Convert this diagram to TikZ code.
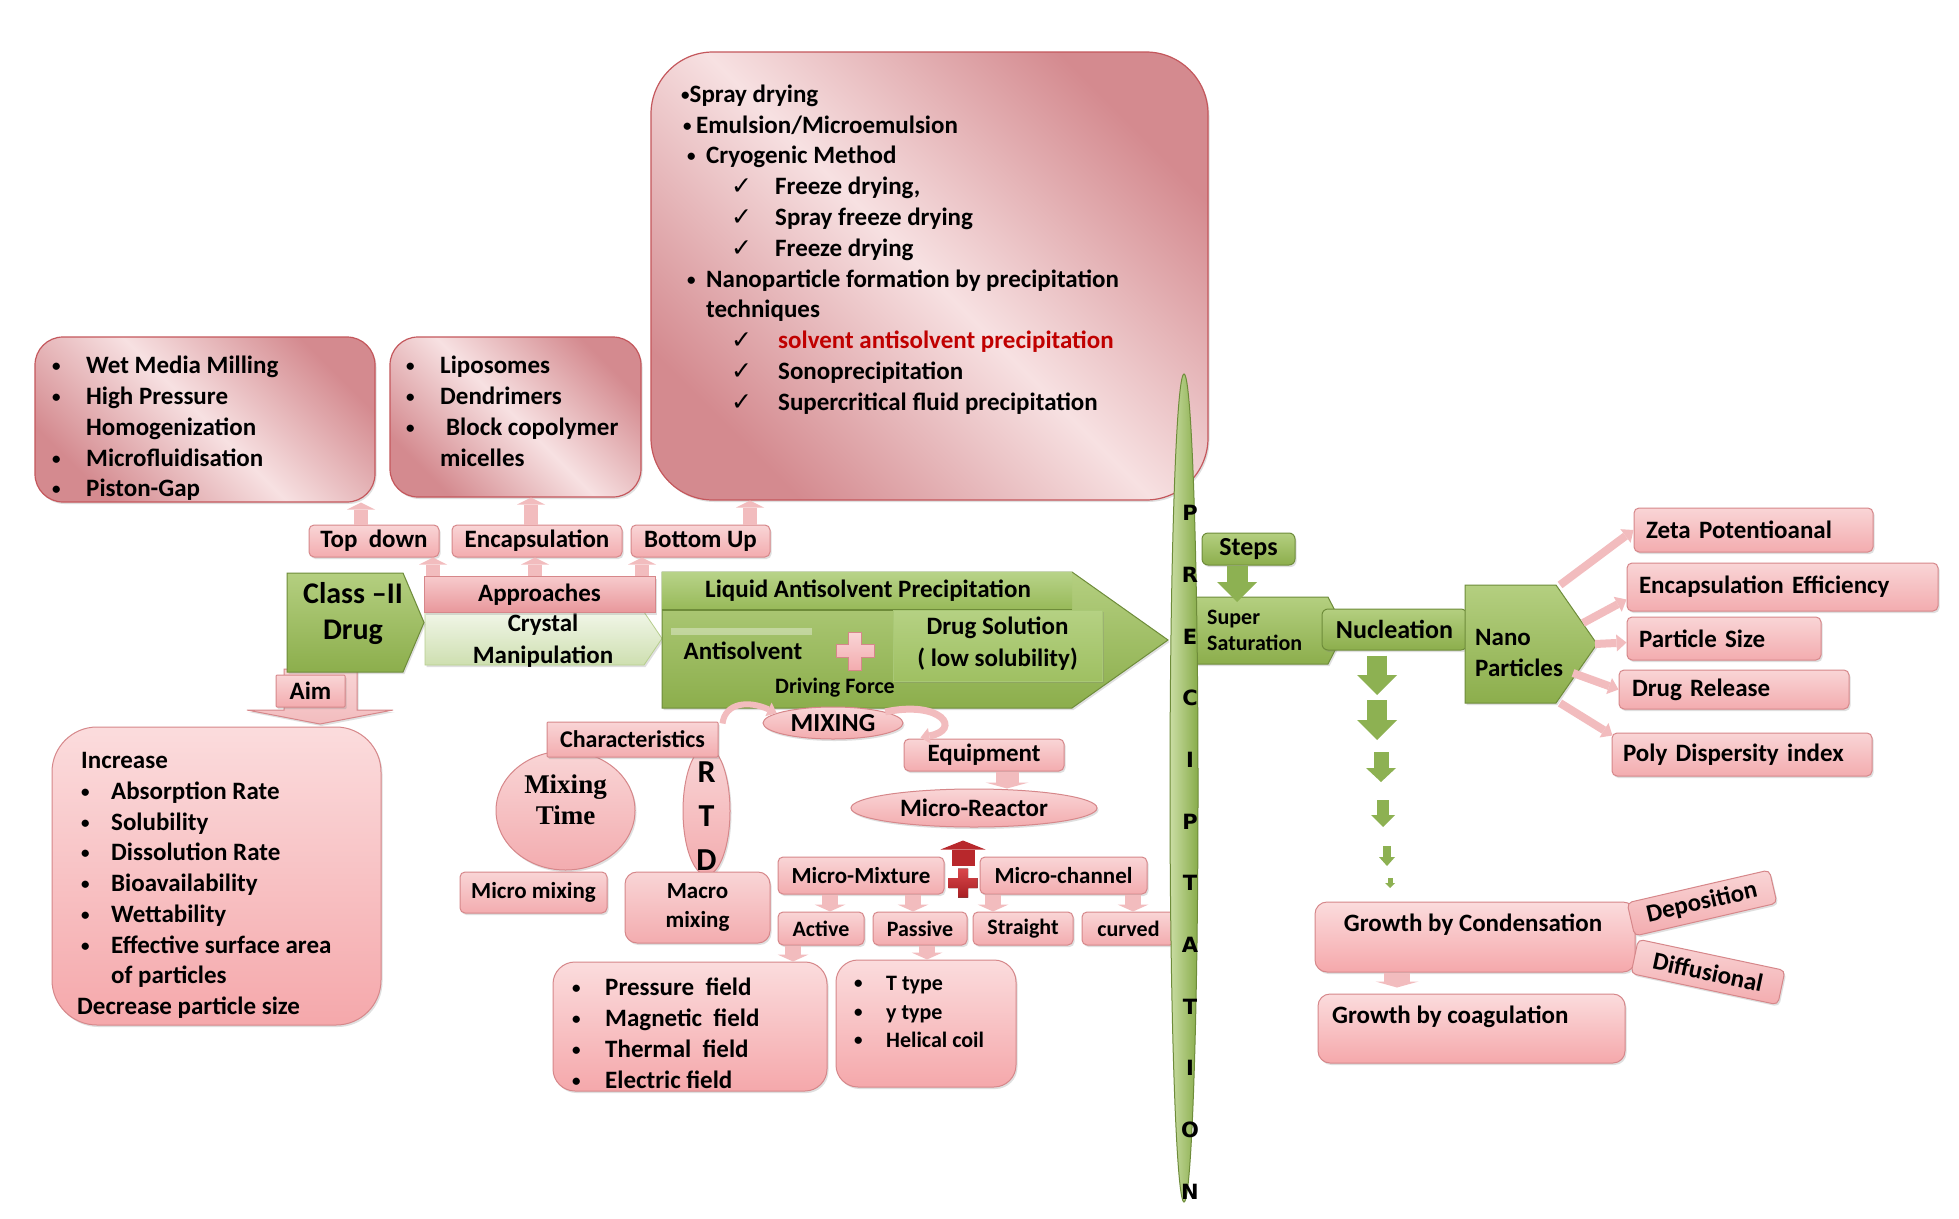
\documentclass[tikz,border=0pt]{standalone}
\usepackage{fontspec}
\setmainfont{Carlito}
\newfontfamily\dvs{DejaVu Sans}
\newfontfamily\tms{Liberation Serif}
\usetikzlibrary{shapes.geometric,arrows.meta,shadows,calc}
\newcommand\fsz[2]{\fontsize{#1}{#2}\selectfont\bfseries}
\newcommand\fl{\rule{0pt}{0.76em}}
\newcommand\sbul{{\fontsize{17}{17}\selectfont\raisebox{2pt}{•}}}
\newcommand\mybl[1]{\makebox[#1][l]{\sbul}}
\newcommand\myck[1]{\makebox[#1][l]{\dvs\mdseries\fontsize{25}{25}\selectfont ✓}}
\newcommand\pent[3]{\path[#1] (#2.north west) -- ($(#2.north east)+(-#3,0)$) -- (#2.east) -- ($(#2.south east)+(-#3,0)$) -- (#2.south west) -- cycle;}
\definecolor{pinkT}{HTML}{F9D5D6}
\definecolor{pinkB}{HTML}{F3ACAF}
\definecolor{pinkE}{HTML}{D6878A}
\definecolor{tD}{HTML}{D48A8F}
\definecolor{tL}{HTML}{F7E1E2}
\definecolor{tE}{HTML}{C4575C}
\definecolor{lT}{HTML}{FBDCDD}
\definecolor{lB}{HTML}{F5A8AB}
\definecolor{apT}{HTML}{F7CACC}
\definecolor{apB}{HTML}{E8979B}
\definecolor{gT}{HTML}{B4CF80}
\definecolor{gB}{HTML}{8CAE4C}
\definecolor{gE}{HTML}{6E8C3A}
\definecolor{gA}{HTML}{8DB152}
\definecolor{cmT}{HTML}{F1F6E8}
\definecolor{cmB}{HTML}{CEDFB0}
\definecolor{cmE}{HTML}{B7CE8E}
\definecolor{dsT}{HTML}{B5D183}
\definecolor{dsB}{HTML}{9FC062}
\definecolor{dsE}{HTML}{A9C876}
\definecolor{stT}{HTML}{B8D389}
\definecolor{stB}{HTML}{97B958}
\definecolor{pcL}{HTML}{CADDA4}
\definecolor{pcR}{HTML}{88AC4A}
\definecolor{arP}{HTML}{F2BCBE}
\definecolor{redA}{HTML}{B8282C}
\definecolor{rpT}{HTML}{D9484C}
\definecolor{rpB}{HTML}{A81E22}
\definecolor{redT}{HTML}{C00000}
\tikzset{
  shd/.style={drop shadow={opacity=0.25,shadow xshift=1.5pt,shadow yshift=-2pt}},
  pbox/.style={shd,draw=pinkE,line width=1pt,rounded corners=5pt,top color=pinkT,bottom color=pinkB,inner sep=0pt,font=\fsz{25}{30.8}},
  lbox/.style={shd,draw=pinkE,line width=1pt,rounded corners=24pt,top color=lT,bottom color=lB,inner sep=0pt},
  tbox/.style={shd,draw=tE,line width=1.2pt,rounded corners=28pt,left color=tD,right color=tD,middle color=tL,shading angle=-45,inner sep=0pt},
  pell/.style={shd,ellipse,draw=pinkE,line width=1pt,top color=pinkT,bottom color=pinkB,inner sep=0pt,font=\fsz{25}{30.8}},
  gfill/.style={shd,draw=gE,line width=1pt,top color=gT,bottom color=gB},
  gbox/.style={gfill,rounded corners=6pt,inner sep=0pt,font=\fsz{25}{30.8}},
  ghost/.style={inner sep=0pt,outer sep=0pt},
  txt/.style={inner sep=0pt,font=\fsz{25}{30.8}},
  list/.style={txt,anchor=north west,align=left},
  barrow/.style n args={4}{draw=#4,line width=#1,-{Triangle[width=#2,length=#3,line width=0pt 0 0]}},
}
\begin{document}
\begin{tikzpicture}[x=1pt,y=-1pt]
\useasboundingbox (0,0) rectangle (1959,1218);
\fill[white] (0,0) rectangle (1959,1218);

% ===== upper boxes =====
\node[tbox,minimum width=340pt,minimum height=165pt] (wmm) at (205,419.5) {};
\node[list] (wmmt) at (52,354.5) {\fl\mybl{34pt}Wet Media Milling\\
\mybl{34pt}High Pressure\\
\hspace*{34pt}Homogenization\\
\mybl{34pt}Microfluidisation\\
\mybl{34pt}Piston-Gap};
\node[tbox,minimum width=251pt,minimum height=160pt] (lipo) at (515.5,417) {};
\node[list] (lipot) at (406,354.5) {\fl\mybl{34pt}Liposomes\\
\mybl{34pt}Dendrimers\\
\mybl{34pt}\hspace{6pt}Block copolymer\\
\hspace*{34pt}micelles};
\node[tbox,rounded corners=62pt,minimum width=557pt,minimum height=448pt] (big) at (929.5,276) {};
\node[list] (bigt) at (681,83) {\fl\sbul Spray drying\\
\hspace*{2pt}\mybl{13pt}Emulsion/Microemulsion\\
\hspace*{6pt}\mybl{19pt}Cryogenic Method\\
\hspace*{50pt}\myck{44pt}Freeze drying,\\
\hspace*{50pt}\myck{44pt}Spray freeze drying\\
\hspace*{50pt}\myck{44pt}Freeze drying\\
\hspace*{6pt}\mybl{19pt}Nanoparticle formation by precipitation\\
\hspace*{25pt}techniques\\
\hspace*{50pt}\myck{47pt}\textcolor{redT}{solvent antisolvent precipitation}\\
\hspace*{50pt}\myck{47pt}Sonoprecipitation\\
\hspace*{50pt}\myck{47pt}Supercritical fluid precipitation};

% ===== approach labels =====
\node[pbox,minimum width=130pt,minimum height=32pt] (topdown) at (374,541) {Top\ \ down};
\node[pbox,minimum width=170pt,minimum height=32pt] (encap) at (537,541) {Encapsulation};
\node[pbox,minimum width=139pt,minimum height=32pt] (bottomup) at (700.5,541) {Bottom Up};
\draw[barrow={14pt}{28pt}{7pt}{arP}] ($(topdown.north)+(-13,0)$) -- ($(topdown.north |- wmm.south)+(-13,0)$);
\draw[barrow={14pt}{28pt}{7pt}{arP}] ($(encap.north)+(-6,0)$) -- ($(encap.north |- lipo.south)+(-6,0)$);
\draw[barrow={14pt}{28pt}{7pt}{arP}] ($(bottomup.north)+(49.5,0)$) -- ($(bottomup.north |- big.south)+(49.5,0)$);

% ===== class II / approaches / crystal =====
\node[ghost,minimum width=237pt,minimum height=53pt] (crys) at (543.5,638.5) {};
\pent{shd,draw=cmE,line width=0.8pt,top color=cmT,bottom color=cmB}{crys}{18}
\node[txt,align=center,font=\fsz{25}{32}] (cryst) at (543,641) {Crystal\\Manipulation};
\node[pbox,sharp corners,top color=apT,bottom color=apB,minimum width=231pt,minimum height=36pt] (appr) at (539.5,594.5) {Approaches};
\draw[barrow={14pt}{28pt}{7pt}{arP}] ($(appr.north)+(-106.5,0)$) -- ($(appr.north |- topdown.south)+(-106.5,0)$);
\draw[barrow={14pt}{28pt}{7pt}{arP}] ($(appr.north)+(-4.5,0)$) -- ($(appr.north |- encap.south)+(-4.5,0)$);
\draw[barrow={14pt}{28pt}{7pt}{arP}] ($(appr.north)+(102.5,0)$) -- ($(appr.north |- bottomup.south)+(102.5,0)$);

\node[ghost,minimum width=137pt,minimum height=99pt] (classii) at (355.5,622.5) {};
\begin{scope}[shift={(classii.south)}]
\draw[shd,draw=pinkE,line width=1pt,top color=pinkT,bottom color=arP] (-71.5,-3) -- (1.5,-3) -- (1.5,38) -- (37.5,38) -- (-35.5,52) -- (-108.5,38) -- (-71.5,38) -- cycle;
\end{scope}
\pent{gfill}{classii}{21}
\node[txt,align=center,font=\fsz{30}{36}] (classiit) at (353,614) {Class –II\\Drug};
\node[pbox,rounded corners=1pt,minimum width=69pt,minimum height=32pt] (aim) at (310.5,691) {Aim};

% ===== increase box =====
\node[lbox,rounded corners=45pt,minimum width=329pt,minimum height=298pt] (increase) at (216.5,876) {};
\node[list,font=\fsz{25}{30.75}] (increaset) at (77,749.5) {\fl\hspace*{4pt}Increase\\
\hspace*{4pt}\mybl{30pt}Absorption Rate\\
\hspace*{4pt}\mybl{30pt}Solubility\\
\hspace*{4pt}\mybl{30pt}Dissolution Rate\\
\hspace*{4pt}\mybl{30pt}Bioavailability\\
\hspace*{4pt}\mybl{30pt}Wettability\\
\hspace*{4pt}\mybl{30pt}Effective surface area\\
\hspace*{34pt}of particles\\
Decrease particle size};

% ===== liquid antisolvent precipitation arrow =====
\node[ghost,minimum width=506pt,minimum height=136pt] (lap) at (915,640) {};
\pent{gfill}{lap}{96}
\path[top color=stT,bottom color=stB] (lap.north west) rectangle ($(lap.north west)+(410,38)$);
\draw[gE,line width=1.5pt] ($(lap.north west)+(0,38)$) -- ($(lap.north west)+(410,38)$);
\node[txt] (lapt) at (868,591) {Liquid Antisolvent Precipitation};
\fill[white,opacity=0.35] (671,628) rectangle (812,635);
\node[txt] (antis) at (743,651) {Antisolvent};
\node[ghost,minimum size=38pt] (plusa) at (855,651) {};
\begin{scope}[shift={(plusa.center)}]
\draw[draw=pinkE,line width=0.8pt,top color=pinkT,bottom color=pinkB] (-6.5,-19) -- (6.5,-19) -- (6.5,-6.5) -- (19,-6.5) -- (19,6.5) -- (6.5,6.5) -- (6.5,19) -- (-6.5,19) -- (-6.5,6.5) -- (-19,6.5) -- (-19,-6.5) -- (-6.5,-6.5) -- cycle;
\end{scope}
\node[shd,draw=dsE,line width=1pt,top color=dsT,bottom color=dsB,minimum width=209pt,minimum height=71pt,inner sep=0pt] (drugsol) at (997.5,645.5) {};
\node[txt,align=center,font=\fsz{25}{32}] (drugsolt) at (997.5,644) {Drug Solution\\( low solubility)};
\node[txt,font=\fsz{22}{26}] (drivf) at (835,688) {Driving Force};

% ===== mixing region =====
\node[pell,minimum width=47pt,minimum height=128pt] (rtd) at (706.5,811) {};
\node[txt,align=center,font=\fsz{32}{44}] (rtdt) at (706.5,816) {R\\T\\D};
\node[pell,minimum width=139pt,minimum height=119pt] (mixtime) at (565.5,810.5) {};
\node[txt,align=center,font=\tms\fsz{27}{31}] (mixtimet) at (565.5,800) {Mixing\\Time};
\node[pbox,rounded corners=1pt,minimum width=171pt,minimum height=35pt,font=\fsz{24}{30}] (char) at (632.5,739.5) {Characteristics};
\node[pell,minimum width=140pt,minimum height=32pt,font=\fsz{26}{30}] (mixing) at (833,723) {MIXING};
\draw[draw=arP,line width=6pt,-{Triangle[width=15pt,length=9pt,line width=0pt 0 0]}] ($(char.north east)+(4,2)$) .. controls (725,703) and (748,700) .. (mixing.170);
\node[pbox,minimum width=160pt,minimum height=32pt] (equip) at (984,755) {Equipment};
\draw[draw=arP,line width=7pt,-{Triangle[width=16pt,length=9pt,line width=0pt 0 0]}] (mixing.12) .. controls (942,700) and (962,730) .. ($(equip.north west)+(17,-1)$);
\node[pell,minimum width=246pt,minimum height=38pt] (mreactor) at (974,808) {Micro-Reactor};
\draw[barrow={23pt}{43pt}{6pt}{arP}] ($(equip.south)+(23,0)$) -- ($(equip.south |- mreactor.north)+(23,0)$);

\node[pbox,minimum width=166pt,minimum height=37pt,font=\fsz{23}{28}] (mm) at (861,875.5) {Micro-Mixture};
\node[pbox,minimum width=167pt,minimum height=37pt,font=\fsz{23}{28}] (mc) at (1063.5,875.5) {Micro-channel};
\node[ghost,minimum size=29pt] (rplus) at (963,883) {};
\begin{scope}[shift={(rplus.center)}]
\fill[top color=rpT,bottom color=rpB] (-5,-14.5) -- (5,-14.5) -- (5,-5) -- (14.5,-5) -- (14.5,5) -- (5,5) -- (5,14.5) -- (-5,14.5) -- (-5,5) -- (-14.5,5) -- (-14.5,-5) -- (-5,-5) -- cycle;
\end{scope}
\draw[barrow={23pt}{45pt}{9pt}{redA}] ($(rplus.north)+(0,-3)$) -- ($(rplus.north |- mreactor.south)+(0,13)$);

\node[pbox,minimum width=86pt,minimum height=33pt,font=\fsz{22}{26}] (active) at (821,928.5) {Active};
\node[pbox,minimum width=94pt,minimum height=33pt,font=\fsz{22}{26}] (passive) at (920,928.5) {Passive};
\node[pbox,minimum width=100pt,minimum height=33pt,font=\fsz{22}{26}] (straight) at (1023,928.5) {Straight};
\node[pbox,minimum width=93pt,minimum height=33pt,font=\fsz{22}{26}] (curved) at (1128.5,928.5) {curved};
\draw[barrow={16pt}{31pt}{7pt}{arP}] ($(mm.south)+(-31,0)$) -- ($(mm.south |- active.north)+(-31,0)$);
\draw[barrow={16pt}{31pt}{7pt}{arP}] ($(mm.south)+(52,0)$) -- ($(mm.south |- passive.north)+(52,0)$);
\draw[barrow={16pt}{31pt}{7pt}{arP}] ($(mc.south)+(-70.5,0)$) -- ($(mc.south |- straight.north)+(-70.5,0)$);
\draw[barrow={16pt}{31pt}{7pt}{arP}] ($(mc.south)+(69.5,0)$) -- ($(mc.south |- curved.north)+(69.5,0)$);

\node[lbox,rounded corners=22pt,minimum width=274pt,minimum height=129pt] (pressure) at (690,1026.5) {};
\node[list] (pressuret) at (572,976.5) {\fl\mybl{33pt}Pressure\ \ field\\
\mybl{33pt}Magnetic\ \ field\\
\mybl{33pt}Thermal\ \ field\\
\mybl{33pt}Electric field};
\node[lbox,rounded corners=22pt,minimum width=180pt,minimum height=127pt] (ttype) at (926,1023.5) {};
\node[list,font=\fsz{22}{28.5}] (ttypet) at (854,973.8) {\fl\mybl{32pt}T type\\
\mybl{32pt}y type\\
\mybl{32pt}Helical coil};
\draw[barrow={16pt}{31pt}{7pt}{arP}] ($(active.south)+(-28,0)$) -- ($(active.south |- pressure.north)+(-28,0)$);
\draw[barrow={16pt}{31pt}{7pt}{arP}] ($(passive.south)+(7,0)$) -- ($(passive.south |- ttype.north)+(7,0)$);

\node[pbox,minimum width=147pt,minimum height=41pt,font=\fsz{23}{28}] (micromix) at (533.5,892.5) {Micro mixing};
\node[pbox,rounded corners=12pt,minimum width=145pt,minimum height=71pt,align=center,font=\fsz{23}{29}] (macromix) at (697.5,907.5) {Macro\\mixing};

% ===== precipitation steps =====
\node[ghost,minimum width=152pt,minimum height=67pt] (supersat) at (1269,630.5) {};
\pent{gfill}{supersat}{17}
\node[list,font=\fsz{22}{26}] (supersatt) at (1207,607.8) {\fl Super\\Saturation};
\node[gbox,minimum width=145pt,minimum height=41pt,font=\fsz{26}{30}] (nuc) at (1394.5,629.5) {Nucleation};
\node[ghost,minimum width=132pt,minimum height=118pt] (nano) at (1531,644) {};
\pent{gfill}{nano}{41}
\node[list] (nanot) at (1475,626.5) {\fl Nano\\Particles};
\node[gbox,minimum width=93pt,minimum height=32pt,font=\fsz{26}{30}] (steps) at (1248.5,549) {Steps};
\draw[barrow={21pt}{40pt}{20pt}{gA}] ($(steps.south)+(-11.5,0)$) -- ($(steps.south |- supersat.north)+(-11.5,5)$);

\node[ellipse,draw=gE,line width=1pt,left color=pcL,right color=pcR,minimum width=28pt,minimum height=828pt,inner sep=0pt] (precip) at (1184,788) {};
\foreach \l [count=\i from 0] in {P,R,E,C,I,P,T,A,T,I,O,N}
  \node[inner sep=0pt,font=\dvs\fontsize{21}{24}\selectfont\bfseries] (pl\i) at (1190,513+61.7*\i) {\l};

% ===== growth chain =====
\coordinate (ga1) at ($(nuc.south)+(-17.5,5)$); \coordinate (gb1) at (1377,695);
\coordinate (ga2) at (1377,700); \coordinate (gb2) at (1377,740);
\coordinate (ga3) at (1381,752); \coordinate (gb3) at (1381,782);
\coordinate (ga4) at (1383,800); \coordinate (gb4) at (1383,827);
\coordinate (ga5) at (1387,846); \coordinate (gb5) at (1387,866);
\coordinate (ga6) at (1390,878); \coordinate (gb6) at (1390,888);
\draw[barrow={20pt}{40pt}{20pt}{gA}] (ga1) -- (gb1);
\draw[barrow={20pt}{40pt}{20pt}{gA}] (ga2) -- (gb2);
\draw[barrow={15pt}{30pt}{14pt}{gA}] (ga3) -- (gb3);
\draw[barrow={12pt}{24pt}{12pt}{gA}] (ga4) -- (gb4);
\draw[barrow={8pt}{16pt}{9pt}{gA}] (ga5) -- (gb5);
\draw[barrow={5pt}{10pt}{5pt}{gA}] (ga6) -- (gb6);

\node[lbox,rounded corners=12pt,minimum width=320pt,minimum height=70pt] (cond) at (1475,937) {};
\node[txt] (condt) at (1473,925) {Growth by Condensation};
\node[lbox,rounded corners=12pt,minimum width=307pt,minimum height=69pt] (coag) at (1471.5,1028.5) {};
\node[txt,anchor=west] (coagt) at (1332,1017) {Growth by coagulation};
\draw[barrow={26pt}{43pt}{6pt}{arP}, shorten >=6pt] ($(cond.south)+(-78,0)$) -- ($(cond.south |- coag.north)+(-78,0)$);
\node[pbox,rotate=13,minimum width=146pt,minimum height=34pt] (depo) at (1702,903) {Deposition};
\node[pbox,rotate=-12,minimum width=150pt,minimum height=35pt] (diff) at (1708,972) {Diffusional};

% ===== nanoparticle properties =====
\node[pbox,minimum height=44pt,text width=215pt,inner xsep=12pt,align=left] (zeta) at (1753.5,530) {Zeta Potentioanal};
\node[pbox,minimum height=48pt,text width=287pt,inner xsep=12pt,align=left] (enc) at (1782.5,587) {Encapsulation Efficiency};
\node[pbox,minimum height=43pt,text width=170pt,inner xsep=12pt,align=left] (psize) at (1724,638.5) {Particle Size};
\node[pbox,minimum height=39pt,text width=204pt,inner xsep=13pt,align=left] (drel) at (1734,689.5) {Drug Release};
\node[pbox,minimum height=43pt,text width=238pt,inner xsep=11pt,align=left] (poly) at (1742,754.5) {Poly Dispersity index};
\draw[barrow={8pt}{17pt}{10pt}{arP}] ($(nano.north east)+(-37,0)$) -- (zeta.west);
\draw[barrow={8pt}{17pt}{10pt}{arP}] ($(nano.east)+(-14,-21)$) -- ($(enc.south west)+(0,-12)$);
\draw[barrow={8pt}{17pt}{10pt}{arP}] ($(nano.east)+(-2,0)$) -- ($(psize.west)+(0,4)$);
\draw[barrow={8pt}{17pt}{10pt}{arP}] ($(nano.east)+(-24,29)$) -- (drel.west);
\draw[barrow={8pt}{17pt}{10pt}{arP}] ($(nano.south east)+(-37,0)$) -- ($(poly.north west)+(1,3)$);
\end{tikzpicture}
\end{document}
